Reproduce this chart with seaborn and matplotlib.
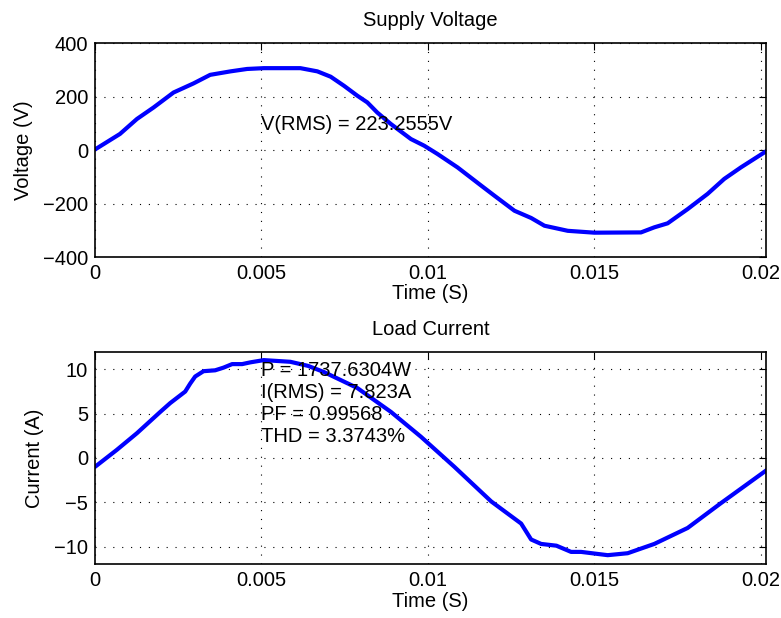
import numpy as np
import pandas as pd
import matplotlib
matplotlib.use("Agg")
import matplotlib.pyplot as plt
import seaborn as sns

# Supply voltage samples (time s, volts)
v_time = [0.0, 0.00075, 0.00126, 0.00176, 0.00236, 0.00296, 0.00346, 0.00407, 0.00457,
          0.00507, 0.00617, 0.00668, 0.00708, 0.00748, 0.00788, 0.00818, 0.00848, 0.00889,
          0.00949, 0.00989, 0.01029, 0.01089, 0.0116, 0.0120, 0.0126, 0.0131, 0.0135, 0.0142,
          0.0150, 0.0164, 0.0168, 0.0172, 0.0178, 0.0184, 0.0189, 0.0194, 0.02018]
v_vals = [2, 60, 116, 159, 215, 249, 281, 294, 303,
          306, 306, 294, 274, 240, 203, 178, 140, 97,
          41, 16, -15, -65, -133, -171, -227, -254, -283, -302,
          -309, -308, -289, -274, -221, -164, -108, -65, -3]

# Load current samples (time s, amps)
i_time = [0.0, 0.00065, 0.00126, 0.00196, 0.00226, 0.00271, 0.00286, 0.00301, 0.00326,
          0.00361, 0.00386, 0.00412, 0.00442, 0.00467, 0.00507, 0.00587, 0.0064, 0.00688,
          0.00788, 0.00889, 0.00979, 0.01079, 0.0119, 0.0128, 0.01295, 0.0131, 0.0134,
          0.01386, 0.0143, 0.0146, 0.0154, 0.0160, 0.0168, 0.0178, 0.0188, 0.02018]
i_vals = [-1.0, 0.9, 2.8, 5.2, 6.2, 7.5, 8.4, 9.2, 9.8,
          9.9, 10.2, 10.6, 10.6, 10.8, 11.05, 10.86, 10.4, 9.7,
          7.9, 5.2, 2.4, -0.98, -4.9, -7.4, -8.3, -9.2, -9.7,
          -9.9, -10.6, -10.6, -10.97, -10.75, -9.7, -7.9, -5.1, -1.35]

x_ticks = [0, 0.005, 0.01, 0.015, 0.02]
x_tick_labels = ["0", "0.005", "0.01", "0.015", "0.02"]
v_ticks = [-400, -200, 0, 200, 400]
i_ticks = [-10, -5, 0, 5, 10]

v_text = "V(RMS) = 223.2555V"
i_text = ["P = 1737.6304W", "I(RMS) = 7.823A", "PF = 0.99568", "THD = 3.3743%"]

FS = 14.5

sns.set_style("white")
plt.rcParams['font.family'] = ['Liberation Sans', 'DejaVu Sans']
plt.rcParams['axes.unicode_minus'] = True
plt.rcParams['text.color'] = 'black'
plt.rcParams['axes.labelcolor'] = 'black'

fig = plt.figure(figsize=(7.81, 6.18), dpi=100)
ax1 = fig.add_axes([0.1216, 0.5841, 0.859, 0.3463])
ax2 = fig.add_axes([0.1216, 0.0869, 0.859, 0.3440])

dfv = pd.DataFrame({"t": v_time, "v": v_vals})
dfi = pd.DataFrame({"t": i_time, "i": i_vals})

sns.lineplot(data=dfv, x="t", y="v", ax=ax1, color="#0000ff", linewidth=3, sort=False)
sns.lineplot(data=dfi, x="t", y="i", ax=ax2, color="#0000ff", linewidth=3, sort=False)

def style(ax, yticks, ylim, ylabel, title):
    ax.set_xlim(0, 0.02015)
    ax.set_ylim(*ylim)
    ax.set_xticks(x_ticks)
    ax.set_xticklabels(x_tick_labels)
    ax.set_yticks(yticks)
    ax.set_yticklabels([str(t).replace('-', '\u2212') for t in yticks])
    ax.set_xlabel("Time (S)", fontsize=FS, labelpad=1, color="black")
    ax.set_ylabel(ylabel, fontsize=FS, labelpad=7, color="black")
    ax.set_title(title, fontsize=FS, pad=12, color="black")
    ax.grid(True, color="black", linestyle=(0, (1, 7)), linewidth=0.8)
    ax.tick_params(direction="in", length=5, width=0.8, top=True, right=True,
                   labelsize=FS, pad=5, colors="black")
    for s in ax.spines.values():
        s.set_visible(True)
        s.set_color("black")
        s.set_linewidth(1.2)

style(ax1, v_ticks, (-400, 400), "Voltage (V)", "Supply Voltage")
style(ax2, i_ticks, (-12, 12), "Current (A)", "Load Current")

ax1.text(0.005, 94, v_text, fontsize=FS, va="center", ha="left", color="black")
for k, line in enumerate(i_text):
    ax2.text(0.005, 9.9 - 2.5 * k, line, fontsize=FS, va="center", ha="left", color="black")

fig.savefig("out.png", dpi=100)
